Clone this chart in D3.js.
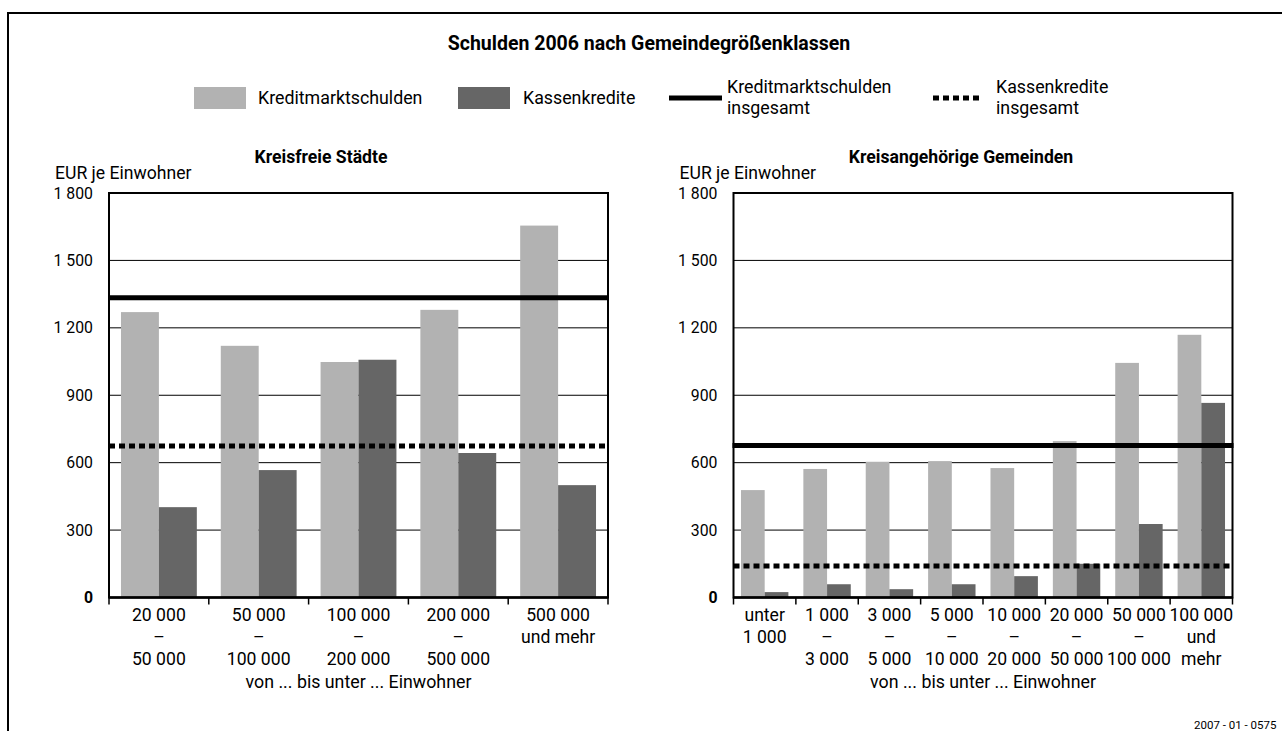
<!DOCTYPE html>
<html>
<head>
<meta charset="utf-8">
<script src="https://cdn.jsdelivr.net/npm/d3@7"></script>
<style>
  body { margin: 0; background: #fff; }
  svg { display: block; font-family: Roboto, "Noto Sans", sans-serif; }
</style>
</head>
<body>
<div id="chart"></div>
<script>
// Kreisfreie Staedte
var catsLeft = [["20 000", "–", "50 000"], ["50 000", "–", "100 000"], ["100 000", "–", "200 000"],
                ["200 000", "–", "500 000"], ["500 000", "und mehr"]];
var kreditLeft = [1270, 1120, 1048, 1280, 1655];
var kasseLeft = [402, 567, 1058, 643, 500];
var totalKreditLeft = 1334;
var totalKasseLeft = 674;

// Kreisangehoerige Gemeinden
var catsRight = [["unter", "1 000"], ["1 000", "–", "3 000"], ["3 000", "–", "5 000"], ["5 000", "–", "10 000"],
                 ["10 000", "–", "20 000"], ["20 000", "–", "50 000"], ["50 000", "–", "100 000"], ["100 000", "und", "mehr"]];
var kreditRight = [478, 572, 604, 607, 576, 696, 1044, 1169];
var kasseRight = [24, 59, 37, 59, 95, 150, 327, 866];
var totalKreditRight = 676;
var totalKasseRight = 140;

var yTicks = [0, 300, 600, 900, 1200, 1500, 1800];
var seriesNames = ["Kreditmarktschulden", "Kassenkredite"];
var colors = ["#b2b2b2", "#666666"];

var W = 1282, H = 731;
var svg = d3.select("#chart").append("svg").attr("width", W).attr("height", H);

var de = d3.formatLocale({ decimal: ",", thousands: " ", grouping: [3], currency: ["", " €"] });
var fmt = de.format(",d");

// outer frame (runs off the page right and bottom)
svg.append("rect")
  .attr("x", 8).attr("y", 13).attr("width", 1400).attr("height", 900)
  .style("fill", "none").style("stroke", "#000").style("stroke-width", 2);

svg.append("text")
  .attr("x", 649).attr("y", 50)
  .attr("text-anchor", "middle")
  .style("font-size", "19.5px").style("font-weight", "bold")
  .text("Schulden 2006 nach Gemeindegrößenklassen");

// legend
var lg = svg.append("g").style("font-size", "17.8px");
lg.append("rect").attr("x", 194).attr("y", 87).attr("width", 52).attr("height", 22).style("fill", colors[0]);
lg.append("text").attr("x", 258).attr("y", 104).text(seriesNames[0]);
lg.append("rect").attr("x", 458).attr("y", 87).attr("width", 52).attr("height", 22).style("fill", colors[1]);
lg.append("text").attr("x", 523).attr("y", 104).text(seriesNames[1]);
lg.append("line").attr("x1", 669).attr("x2", 722).attr("y1", 98).attr("y2", 98)
  .style("stroke", "#000").style("stroke-width", 5);
lg.append("text").attr("x", 727).attr("y", 93).text("Kreditmarktschulden");
lg.append("text").attr("x", 727).attr("y", 114).text("insgesamt");
lg.append("line").attr("x1", 933).attr("x2", 983).attr("y1", 98).attr("y2", 98)
  .style("stroke", "#000").style("stroke-width", 5).style("stroke-dasharray", "6,4");
lg.append("text").attr("x", 996).attr("y", 93).text("Kassenkredite");
lg.append("text").attr("x", 996).attr("y", 114).text("insgesamt");

function panel(opt) {
  var x0 = opt.x0, x1 = opt.x1, top = 193, bottom = 597.5;
  var g = svg.append("g");
  var n = opt.cats.length;

  var y = d3.scaleLinear().domain([0, 1800]).range([bottom, top]);
  var x = d3.scaleBand().domain(d3.range(n)).range([x0, x1]).paddingInner(0.24).paddingOuter(0.12);
  var xs = d3.scaleBand().domain([0, 1]).range([0, x.bandwidth()]);
  var step = x.step();

  g.append("text").attr("x", opt.titleX).attr("y", 163).attr("text-anchor", "middle")
    .style("font-size", "17.6px").style("font-weight", "bold").text(opt.title);
  g.append("text").attr("x", x0 - 54).attr("y", 179).style("font-size", "17.6px").text("EUR je Einwohner");

  // gridlines
  g.selectAll(".grid").data(yTicks.filter(function (d) { return d > 0 && d < 1800; }))
    .enter().append("line")
    .attr("x1", x0).attr("x2", x1)
    .attr("y1", function (d) { return y(d); }).attr("y2", function (d) { return y(d); })
    .style("stroke", "#000").style("stroke-width", 1);

  // y axis labels
  var ax = g.append("g").attr("transform", "translate(" + (x0 - 16) + ",0)")
    .call(d3.axisLeft(y).tickValues(yTicks).tickSize(0).tickPadding(0).tickFormat(fmt));
  ax.select(".domain").remove();
  ax.selectAll("text").style("font-size", "15.8px").style("font-family", "Roboto, 'Noto Sans', sans-serif")
    .attr("fill", "#000")
    .style("font-weight", function (d) { return d === 0 ? "bold" : "normal"; });

  // bars
  var data = opt.kredit.map(function (v, i) { return [v, opt.kasse[i]]; });
  var grp = g.selectAll(".cat").data(data).enter().append("g")
    .attr("transform", function (d, i) { return "translate(" + x(i) + ",0)"; });
  grp.selectAll("rect").data(function (d) { return d; }).enter().append("rect")
    .attr("x", function (d, j) { return xs(j); })
    .attr("width", xs.bandwidth())
    .attr("y", function (d) { return y(d); })
    .attr("height", function (d) { return bottom - y(d); })
    .style("fill", function (d, j) { return colors[j]; });

  // frame
  g.append("rect").attr("x", x0).attr("y", top).attr("width", x1 - x0).attr("height", bottom - top)
    .style("fill", "none").style("stroke", "#000").style("stroke-width", 2);

  // totals
  g.append("line").attr("x1", x0 - 1).attr("x2", x1 + 1)
    .attr("y1", y(opt.totalKredit)).attr("y2", y(opt.totalKredit))
    .style("stroke", "#000").style("stroke-width", 5);
  g.append("line").attr("x1", x0).attr("x2", x1)
    .attr("y1", y(opt.totalKasse)).attr("y2", y(opt.totalKasse))
    .style("stroke", "#000").style("stroke-width", 5).style("stroke-dasharray", "6,4");

  // baseline and ticks
  g.append("line").attr("x1", x0).attr("x2", x1).attr("y1", bottom).attr("y2", bottom)
    .style("stroke", "#000").style("stroke-width", 2.5);
  g.selectAll(".tick2").data(d3.range(n + 1)).enter().append("line")
    .attr("x1", function (i) { return x0 + i * step; }).attr("x2", function (i) { return x0 + i * step; })
    .attr("y1", bottom).attr("y2", bottom + 7)
    .style("stroke", "#000").style("stroke-width", 1.5);

  // category labels
  var lab = g.selectAll(".lab").data(opt.cats).enter().append("text")
    .attr("text-anchor", "middle").style("font-size", "17.6px");
  lab.selectAll("tspan").data(function (d, i) { return d.map(function (s) { return { s: s, i: i }; }); })
    .enter().append("tspan")
    .attr("x", function (d) { return x0 + (d.i + 0.5) * step; })
    .attr("y", function (d, k) { return 621 + k * 22; })
    .text(function (d) { return d.s; });

  g.append("text").attr("x", (x0 + x1) / 2).attr("y", 688).attr("text-anchor", "middle")
    .style("font-size", "17.8px").text("von ... bis unter ... Einwohner");
}

panel({ x0: 109, x1: 608, title: "Kreisfreie Städte", titleX: 321, cats: catsLeft,
        kredit: kreditLeft, kasse: kasseLeft, totalKredit: totalKreditLeft, totalKasse: totalKasseLeft });
panel({ x0: 733.5, x1: 1232.5, title: "Kreisangehörige Gemeinden", titleX: 961, cats: catsRight,
        kredit: kreditRight, kasse: kasseRight, totalKredit: totalKreditRight, totalKasse: totalKasseRight });

svg.append("text").attr("x", 1194).attr("y", 729).style("font-size", "11.5px").text("2007 - 01 - 0575");
</script>
</body>
</html>
